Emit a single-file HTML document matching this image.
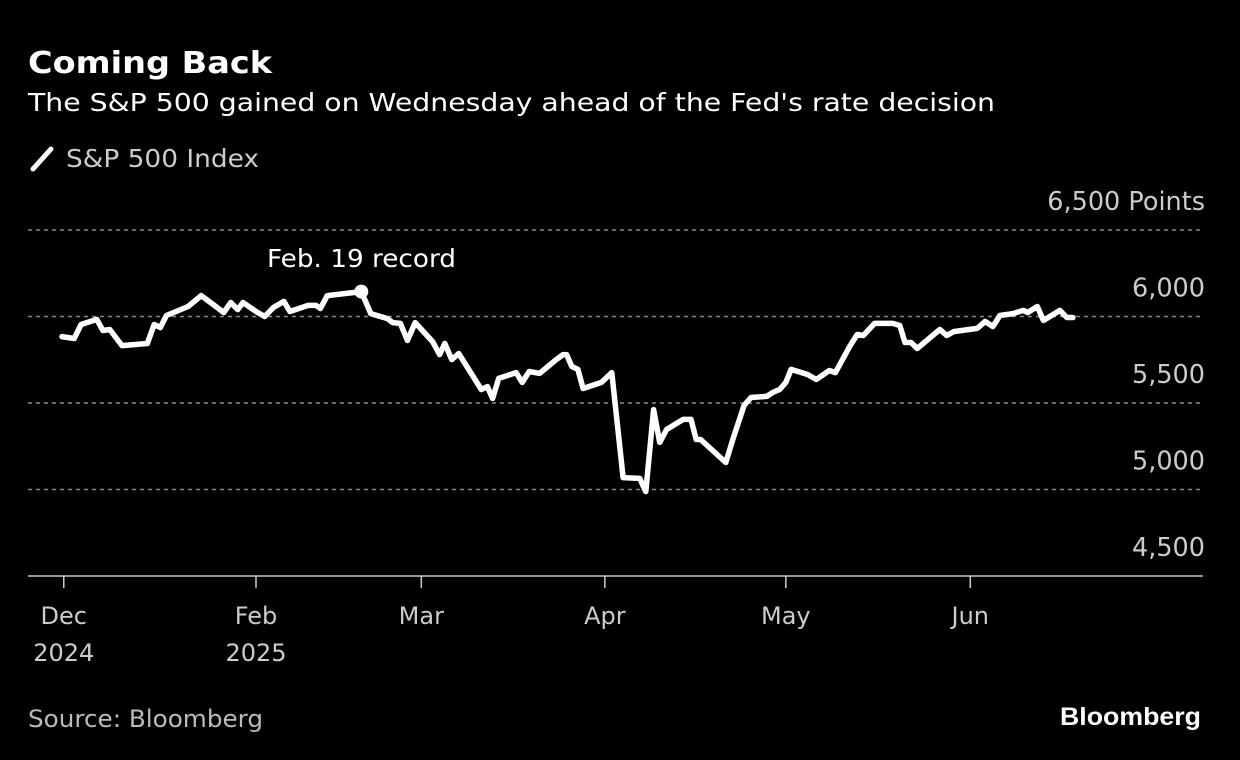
<!DOCTYPE html>
<html><head><meta charset="utf-8">
<style>
body{margin:0;background:#000;width:1240px;height:760px;overflow:hidden;font-family:"DejaVu Sans",sans-serif;color:#fff}
svg{position:absolute;left:0;top:0}
text{font-family:"DejaVu Sans",sans-serif}
</style></head>
<body>
<svg id="chart" width="1240" height="760">
<text x="28" y="73" font-size="30" font-weight="bold" fill="#fff" textLength="244" lengthAdjust="spacingAndGlyphs">Coming Back</text>
<text x="28" y="111" font-size="25" fill="#fff" textLength="967" lengthAdjust="spacingAndGlyphs">The S&amp;P 500 gained on Wednesday ahead of the Fed's rate decision</text>
<g>
<line x1="33" y1="169" x2="51" y2="149" stroke="#fff" stroke-width="5" stroke-linecap="round"/>
<text x="66" y="167" font-size="25" fill="#ccc" textLength="193" lengthAdjust="spacingAndGlyphs">S&amp;P 500 Index</text>
</g>
<g id="grid"></g>
<g id="ylabels"></g>
<line x1="28" y1="576" x2="1203" y2="576" stroke="#ccc" stroke-width="1.5"/>
<g id="xticks"></g>
<path id="line" fill="none" stroke="#fff" stroke-width="5.5" stroke-linejoin="round" stroke-linecap="round"/>
<circle id="rec" r="7" fill="#fff"/>
<text x="267" y="267" font-size="25" fill="#fff" textLength="189" lengthAdjust="spacingAndGlyphs">Feb. 19 record</text>
<text x="28" y="727" font-size="24" fill="#bbb" textLength="235" lengthAdjust="spacingAndGlyphs">Source: Bloomberg</text>
<text x="1201" y="725" font-size="25" font-weight="bold" fill="#fff" text-anchor="end" style="font-family:'Liberation Sans',sans-serif" textLength="141" lengthAdjust="spacingAndGlyphs">Bloomberg</text>
</svg>
<script>
const dayIdx=[0,1.4,2.2,4.0,4.7,5.5,6.9,9.8,10.6,11.3,12.0,14.5,16.0,18.6,19.4,20.2,20.8,22.3,23.3,24.3,25.5,26.2,28.3,29.2,29.7,30.5,34.4,35.5,37.4,38.0,38.9,39.7,40.6,42.6,43.4,44.0,44.8,45.6,48.2,48.9,49.5,50.2,52.2,52.9,53.7,54.9,56.8,57.6,58.0,58.6,59.3,59.9,62.0,63.2,64.5,66.4,67.1,68.0,68.7,69.5,71.4,72.3,72.9,73.4,76.3,77.1,78.4,79.2,81.0,81.7,82.5,83.2,83.8,85.7,86.7,88.2,88.9,90.6,91.4,92.1,93.4,95.5,96.3,96.9,97.6,98.3,100.9,101.7,102.5,103.4,105.2,106.1,107.0,107.8,109.3,110.5,111.0,112.1,112.8,114.7,115.5,116.2];
const values=[5884,5873,5954,5983,5919,5925,5832,5844,5954,5936,6006,6058,6121,6023,6081,6040,6081,6029,6000,6052,6087,6029,6064,6064,6046,6121,6144,6017,5988,5965,5960,5861,5965,5855,5780,5844,5751,5786,5578,5595,5526,5642,5676,5619,5682,5671,5751,5780,5780,5711,5694,5584,5619,5676,5069,5064,4988,5462,5272,5347,5405,5405,5289,5289,5156,5289,5486,5532,5538,5561,5578,5619,5694,5665,5636,5688,5676,5832,5896,5890,5960,5960,5948,5850,5850,5815,5925,5890,5913,5919,5931,5971,5942,6006,6017,6035,6023,6058,5977,6035,5994,5994];
const recordIdx=26;
const yTicks=[4500,5000,5500,6000,6500];
const yTickLabels=["4,500","5,000","5,500","6,000","6,500 Points"];
const xTickIdx=[0.2,22.3,41.3,62.4,83.2,104.4];
const xTickMonths=["Dec","Feb","Mar","Apr","May","Jun"];
const xTickYears=["2024","2025","","","",""];

const xs=i=>62+i*8.7;
const ys=v=>576-(v-4500)*(346/2000);
const NS="http://www.w3.org/2000/svg";
const grid=document.getElementById('grid'),yl=document.getElementById('ylabels'),xt=document.getElementById('xticks');
yTicks.forEach((t,k)=>{
  if(t>4500){
    const l=document.createElementNS(NS,'line');
    l.setAttribute('x1',28);l.setAttribute('x2',1203);
    l.setAttribute('y1',ys(t));l.setAttribute('y2',ys(t));
    l.setAttribute('stroke','#888');l.setAttribute('stroke-width','1.5');l.setAttribute('stroke-dasharray','4 4');
    
    
    grid.appendChild(l);
  }
  const tx=document.createElementNS(NS,'text');
  tx.setAttribute('x',1205);tx.setAttribute('y',ys(t)-20);
  tx.setAttribute('text-anchor','end');tx.setAttribute('font-size','25.5');tx.setAttribute('fill','#ccc');
  tx.textContent=yTickLabels[k];
  
  
  yl.appendChild(tx);
});
xTickIdx.forEach((d,k)=>{
  const x=xs(d);
  const l=document.createElementNS(NS,'line');
  l.setAttribute('x1',x);l.setAttribute('x2',x);l.setAttribute('y1',576);l.setAttribute('y2',588);
  l.setAttribute('stroke','#ccc');l.setAttribute('stroke-width','1.5');
  
  
  xt.appendChild(l);
  const t=document.createElementNS(NS,'text');
  t.setAttribute('x',x);t.setAttribute('y',624);t.setAttribute('text-anchor','middle');
  t.setAttribute('font-size','24');t.setAttribute('fill','#ccc');
  t.textContent=xTickMonths[k];
  
  
  xt.appendChild(t);
  if(xTickYears[k]){
    const y=document.createElementNS(NS,'text');
    y.setAttribute('x',x);y.setAttribute('y',661);y.setAttribute('text-anchor','middle');
    y.setAttribute('font-size','24');y.setAttribute('fill','#ccc');
    y.textContent=xTickYears[k];
    
    
    xt.appendChild(y);
  }
});
document.getElementById('line').setAttribute('d',dayIdx.map((d,i)=>(i?'L':'M')+xs(d).toFixed(1)+' '+ys(values[i]).toFixed(1)).join(' '));
const rc=document.getElementById('rec');
rc.setAttribute('cx',xs(dayIdx[recordIdx]));rc.setAttribute('cy',ys(values[recordIdx]));
</script>
</body></html>
